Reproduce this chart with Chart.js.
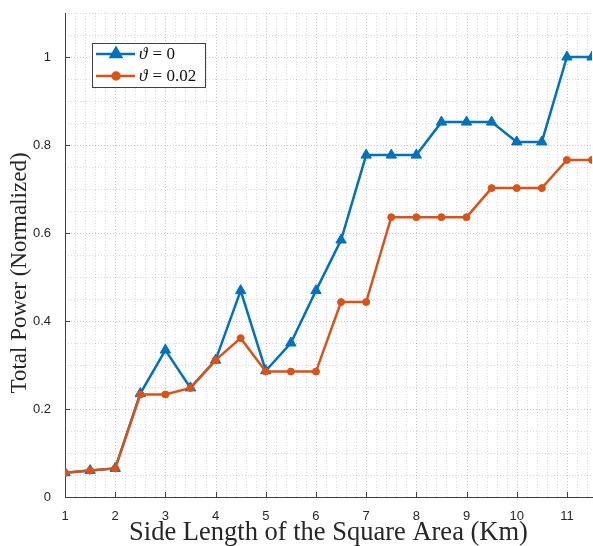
<!DOCTYPE html>
<html>
<head>
<meta charset="utf-8">
<script src="https://cdn.jsdelivr.net/npm/chart.js@4"></script>
<style>
  html, body { margin: 0; padding: 0; background: #fff; }
  #wrap { width: 593px; height: 546px; }
</style>
</head>
<body>
<div id="wrap"><canvas id="powerChart" width="593" height="546"></canvas></div>
<script>
const sideLength = [1, 1.5, 2, 2.5, 3, 3.5, 4, 4.5, 5, 5.5, 6, 6.5, 7, 7.5, 8, 8.5, 9, 9.5, 10, 10.5, 11, 11.5];
const powerTheta0 = [0.055, 0.060, 0.065, 0.235, 0.334, 0.248, 0.311, 0.469, 0.287, 0.350, 0.469, 0.584, 0.777, 0.777, 0.777, 0.852, 0.852, 0.852, 0.807, 0.807, 1.0, 1.0];
const powerTheta002 = [0.055, 0.060, 0.065, 0.233, 0.233, 0.248, 0.311, 0.361, 0.285, 0.285, 0.285, 0.443, 0.443, 0.636, 0.636, 0.636, 0.636, 0.702, 0.702, 0.702, 0.766, 0.766];
const seriesNames = ['0', '0.02'];
const xTicks = [1, 2, 3, 4, 5, 6, 7, 8, 9, 10, 11];
const yTicks = [0, 0.2, 0.4, 0.6, 0.8, 1];
const yTitle = 'Total Power (Normalized)';
const xTitle = 'Side Length of the Square Area (Km)';

const blue = '#0072BD';
const orange = '#D95319';
const axisColor = '#404040';

// dotted major + minor grid, inward tick marks (matlab look)
const gridPlugin = {
  id: 'matGrid',
  beforeDatasetsDraw(chart) {
    const { ctx, chartArea: a, scales: { x, y } } = chart;
    ctx.save();
    ctx.lineWidth = 1;
    ctx.setLineDash([1, 2]);
    for (let k = 1; k <= 52; k++) {
      const px = Math.round(x.getPixelForValue(1 + k * 0.2)) + 0.5;
      ctx.strokeStyle = k % 5 === 0 ? 'rgba(0,0,0,0.22)' : 'rgba(0,0,0,0.14)';
      ctx.beginPath();
      ctx.moveTo(px, a.top);
      ctx.lineTo(px, a.bottom);
      ctx.stroke();
    }
    for (let k = 1; k <= 22; k++) {
      const py = Math.round(y.getPixelForValue(k * 0.05)) + 0.5;
      ctx.strokeStyle = k % 4 === 0 ? 'rgba(0,0,0,0.22)' : 'rgba(0,0,0,0.14)';
      ctx.beginPath();
      ctx.moveTo(a.left, py);
      ctx.lineTo(a.right, py);
      ctx.stroke();
    }
    ctx.setLineDash([]);
    ctx.strokeStyle = axisColor;
    xTicks.forEach(v => {
      const px = Math.round(x.getPixelForValue(v)) + 0.5;
      ctx.beginPath();
      ctx.moveTo(px, a.bottom);
      ctx.lineTo(px, a.bottom - 5);
      ctx.stroke();
    });
    yTicks.forEach(v => {
      const py = Math.round(y.getPixelForValue(v)) + 0.5;
      ctx.beginPath();
      ctx.moveTo(a.left, py);
      ctx.lineTo(a.left + 5, py);
      ctx.stroke();
    });
    ctx.restore();
  }
};

const legendPlugin = {
  id: 'matLegend',
  afterDraw(chart) {
    const { ctx } = chart;
    const bx = 92, by = 43, bw = 113, bh = 44;
    ctx.save();
    // y title, placed like the original (a bit below the plot centre)
    ctx.translate(20, 273);
    ctx.rotate(-Math.PI / 2);
    ctx.font = '23px "Liberation Serif"';
    ctx.fillStyle = '#262626';
    ctx.textAlign = 'center';
    ctx.textBaseline = 'middle';
    ctx.fillText(yTitle, 0, 0);
    ctx.setTransform(1, 0, 0, 1, 0, 0);

    ctx.fillStyle = '#fff';
    ctx.fillRect(bx, by, bw, bh);
    ctx.strokeStyle = axisColor;
    ctx.lineWidth = 1;
    ctx.strokeRect(bx + 0.5, by + 0.5, bw, bh);
    const rows = [
      { color: blue, marker: 'triangle', label: seriesNames[0], y: 54 },
      { color: orange, marker: 'circle', label: seriesNames[1], y: 76 }
    ];
    rows.forEach(r => {
      ctx.strokeStyle = r.color;
      ctx.fillStyle = r.color;
      ctx.lineWidth = 2.5;
      ctx.beginPath();
      ctx.moveTo(96, r.y);
      ctx.lineTo(135, r.y);
      ctx.stroke();
      if (r.marker === 'triangle') {
        Chart.helpers.drawPoint(ctx, { pointStyle: 'triangle', radius: 6, borderWidth: 1 }, 116, r.y);
      } else {
        Chart.helpers.drawPoint(ctx, { pointStyle: 'circle', radius: 3.5, borderWidth: 1 }, 116, r.y);
      }
      ctx.fillStyle = '#111';
      ctx.textBaseline = 'middle';
      ctx.textAlign = 'left';
      ctx.font = 'italic 17px "Liberation Serif"';
      ctx.fillText('\u03D1', 139, r.y + 1);
      const w = ctx.measureText('\u03D1').width;
      ctx.font = '17px "Liberation Serif"';
      ctx.fillText(' = ' + r.label, 139 + w + 1, r.y + 1);
    });
    ctx.restore();
  }
};

const toPoints = arr => arr.map((v, i) => ({ x: sideLength[i], y: v }));

new Chart(document.getElementById('powerChart'), {
  type: 'line',
  data: {
    datasets: [
      {
        label: '\u03D1 = ' + seriesNames[0],
        data: toPoints(powerTheta0),
        borderColor: blue,
        backgroundColor: blue,
        borderWidth: 2.5,
        pointStyle: 'triangle',
        pointRadius: 6,
        pointBorderWidth: 1,
        tension: 0,
        order: 1
      },
      {
        label: '\u03D1 = ' + seriesNames[1],
        data: toPoints(powerTheta002),
        borderColor: orange,
        backgroundColor: orange,
        borderWidth: 2.5,
        pointStyle: 'circle',
        pointRadius: 3.5,
        pointBorderWidth: 1,
        tension: 0,
        order: 0
      }
    ]
  },
  options: {
    responsive: false,
    animation: false,
    layout: { autoPadding: false, padding: { top: 13, right: 1, left: 0, bottom: 0 } },
    plugins: {
      legend: { display: false },
      tooltip: { enabled: false }
    },
    scales: {
      x: {
        type: 'linear',
        min: 1,
        max: 11.5,
        afterBuildTicks: s => { s.ticks = xTicks.map(v => ({ value: v })); },
        afterFit: s => { s.height = 49; s.paddingLeft = 0; s.paddingRight = 0; },
        grid: { display: false },
        border: { display: true, color: axisColor, width: 1 },
        ticks: {
          font: { family: 'Liberation Sans', size: 13 },
          color: '#262626',
          padding: 4,
          maxRotation: 0
        },
        title: {
          display: true,
          text: xTitle,
          font: { family: 'Liberation Serif', size: 26.5, lineHeight: 1 },
          color: '#262626',
          padding: { top: 0, bottom: 0 }
        }
      },
      y: {
        min: 0,
        max: 1.1,
        afterBuildTicks: s => { s.ticks = yTicks.map(v => ({ value: v })); },
        afterFit: s => { s.width = 65; s.paddingTop = 0; s.paddingBottom = 0; },
        grid: { display: false },
        border: { display: true, color: axisColor, width: 1 },
        ticks: {
          font: { family: 'Liberation Sans', size: 13 },
          color: '#262626',
          padding: 6,
          callback: v => String(v)
        }
      }
    }
  },
  plugins: [gridPlugin, legendPlugin]
});
</script>
</body>
</html>
